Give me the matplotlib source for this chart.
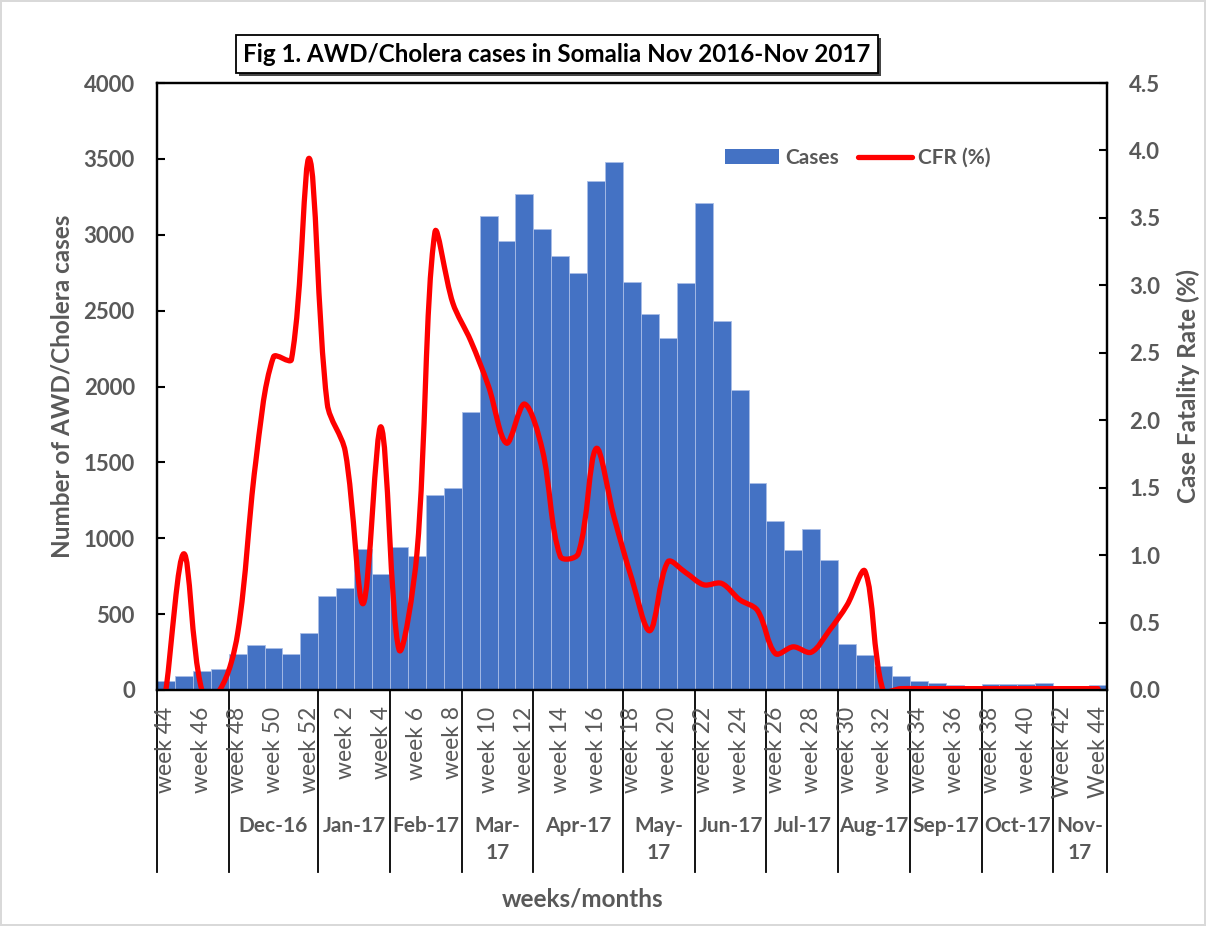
import matplotlib
matplotlib.use("Agg")
import matplotlib.pyplot as plt
import matplotlib.patheffects as pe
from matplotlib.path import Path
from matplotlib.patches import PathPatch, Patch
from matplotlib.lines import Line2D
import matplotlib.transforms as mtransforms

# weekly data, week 44 2016 .. week 44 2017
weeks = [44, 45, 46, 47, 48, 49, 50, 51, 52] + list(range(1, 45))
cases = [60, 95, 125, 140, 240, 295, 280, 235, 375, 622,
         670, 927, 762, 940, 883, 1287, 1329, 1834, 3126, 2957,
         3269, 3040, 2862, 2746, 3357, 3477, 2691, 2478, 2317, 2680,
         3207, 2430, 1977, 1366, 1114, 923, 1063, 857, 301, 229,
         158, 92, 59, 46, 35, 24, 42, 37, 37, 46,
         20, 20, 31]
cfr = [0.0, 1.01, 0.0, 0.0, 0.42, 1.68, 2.47, 2.45, 3.94, 2.12,
       1.77, 0.64, 1.95, 0.30, 1.01, 3.39, 2.87, 2.59, 2.25, 1.83,
       2.12, 1.78, 0.99, 1.01, 1.79, 1.28, 0.82, 0.44, 0.95, 0.87,
       0.78, 0.79, 0.67, 0.59, 0.27, 0.32, 0.28, 0.44, 0.63, 0.88,
       0.0, 0.01, 0.01, 0.01, 0.01, 0.01, 0.01, 0.01, 0.01, 0.01,
       0.01, 0.01, 0.01]
week_labels = ["week %d" % w for w in weeks]
week_labels[-3] = "Week 42"
week_labels[-1] = "Week 44"

# month groups (start index of each group)
month_labels = ["", "Dec-16", "Jan-17", "Feb-17", "Mar-\n17", "Apr-17", "May-\n17",
                "Jun-17", "Jul-17", "Aug-17", "Sep-17", "Oct-17", "Nov-\n17"]
month_starts = [0, 4, 9, 13, 17, 21, 26, 30, 34, 38, 42, 46, 50]

GREY = "#595959"
plt.rcParams["font.family"] = ["Lato", "DejaVu Sans"]

W, H = 1206, 926
fig = plt.figure(figsize=(W / 100, H / 100), dpi=100)
fig.patch.set_edgecolor("#d9d9d9")
fig.patch.set_linewidth(1.5)
ax = fig.add_axes([157 / W, 1 - 690 / H, (1107 - 157) / W, (690 - 83) / H])
ax2 = ax.twinx()

x = list(range(len(cases)))
ax.bar(x, cases, width=1.0, color="#4472C4", edgecolor="#a9bde6", linewidth=0.6)
ax.set_xlim(-0.5, len(cases) - 0.5)
ax.set_ylim(0, 4000)
ax.set_yticks(range(0, 4001, 500))
ax2.set_ylim(0, 4.5)
ax2.set_yticks([i * 0.5 for i in range(10)])
ax2.set_yticklabels(["%.1f" % (i * 0.5) for i in range(10)])

for a in (ax, ax2):
    for s in a.spines.values():
        s.set_color("black")
        s.set_linewidth(1.6)
    a.tick_params(axis="y", direction="in", length=6, width=1.5, pad=16,
                  labelsize=16, labelcolor=GREY)
    for t in a.get_yticklabels():
        t.set_fontweight("bold")
ax.set_xticks([])

# smoothed CFR line, Excel-like bezier; tangents weighted by segment length on screen
n = len(cfr)
sx, sy = 17.92, 134.9  # px per category / per CFR unit
pts = [(xi * sx, yi * sy) for xi, yi in zip(x, cfr)]


def dist(a, b):
    return ((a[0] - b[0]) ** 2 + (a[1] - b[1]) ** 2) ** 0.5


ctrl_out, ctrl_in = [], []
for i in range(n):
    pp = pts[max(i - 1, 0)]
    pn = pts[min(i + 1, n - 1)]
    tx, ty = pn[0] - pp[0], pn[1] - pp[1]
    dp = dist(pts[i], pp)
    dn = dist(pts[i], pn)
    tot = dp + dn
    ko = dn / tot / 3
    ki = dp / tot / 3
    ctrl_out.append((pts[i][0] + tx * ko, pts[i][1] + ty * ko))
    ctrl_in.append((pts[i][0] - tx * ki, pts[i][1] - ty * ki))

verts = [pts[0]]
codes = [Path.MOVETO]
for i in range(n - 1):
    verts += [ctrl_out[i], ctrl_in[i + 1], pts[i + 1]]
    codes += [Path.CURVE4] * 3
verts = [(vx / sx, vy / sy) for vx, vy in verts]
ax2.add_patch(PathPatch(Path(verts, codes), fill=False, edgecolor="#FF0000",
                        linewidth=3.8, capstyle="round", joinstyle="round"))

# category axis: week labels and month groups
trans = mtransforms.blended_transform_factory(ax.transData, ax.transAxes)
for i in range(0, n, 2):
    ax.text(i, -0.027, week_labels[i], transform=trans, rotation=90, ha="center",
            va="top", fontsize=16.5, color=GREY)
bounds = month_starts + [n]
for k, lab in enumerate(month_labels):
    ax.text((bounds[k] + bounds[k + 1] - 1) / 2, -0.208, lab, transform=trans,
            ha="center", va="top", fontsize=15, fontweight="bold", color=GREY,
            linespacing=1.45)
for b in bounds:
    ax.plot([b - 0.5, b - 0.5], [0, -0.30], transform=trans, color="black",
            linewidth=1.3, clip_on=False)

fig.text(583 / W, 1 - 899 / H, "weeks/months", ha="center", va="center",
         fontsize=17.5, fontweight="bold", color=GREY)
fig.text(62 / W, 1 - 386 / H, "Number of AWD/Cholera cases", rotation=90,
         ha="center", va="center", fontsize=17.5, fontweight="bold", color=GREY)
fig.text(1188 / W, 1 - 386 / H, "Case Fatality Rate (%)", rotation=90,
         ha="center", va="center", fontsize=17.5, fontweight="bold", color=GREY)

title = fig.text(557 / W, 1 - 54 / H, "Fig 1. AWD/Cholera cases in Somalia Nov 2016-Nov 2017",
                 ha="center", va="center", fontsize=17.4, fontweight="bold", color="black",
                 bbox=dict(boxstyle="square,pad=0.3", fc="white", ec="black", lw=1.3))
title.get_bbox_patch().set_path_effects(
    [pe.SimplePatchShadow(offset=(2, -2), shadow_rgbFace="#333333", alpha=0.9), pe.Normal()])

handles = [Patch(facecolor="#4472C4", edgecolor="none", label="Cases"),
           Line2D([], [], color="#FF0000", linewidth=3.8, solid_capstyle="round",
                  label="CFR (%)")]
leg = ax2.legend(handles=handles, loc="center", bbox_to_anchor=(858 / W, 1 - 158 / H),
                 bbox_transform=fig.transFigure, ncol=2, frameon=False,
                 handlelength=2.6, handletextpad=0.3, columnspacing=0.9,
                 prop={"size": 15, "weight": "bold"})
for t in leg.get_texts():
    t.set_color(GREY)

fig.savefig("out.png", dpi=100, edgecolor=fig.get_edgecolor())
